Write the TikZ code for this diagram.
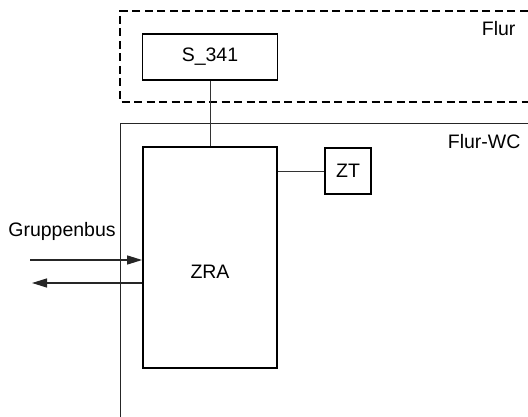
\documentclass[tikz,border=0pt]{standalone}
\usepackage{fontspec}
\setmainfont{Liberation Sans}
\usetikzlibrary{arrows.meta}

\begin{document}
\begin{tikzpicture}[x=1pt,y=-1pt,
  every node/.style={font=\fontsize{19.5}{22}\selectfont},
  box/.style={draw,line width=1.8pt,inner sep=0pt},
  area/.style={line width=1pt,black!85},
  conn/.style={line width=0.9pt,black!80},
  bus/.style={line width=1.3pt,black!85,-{Triangle[length=15pt,width=9pt]}}]
  \useasboundingbox (0,0) rectangle (528,417);
  \clip (0,0) rectangle (528,417);
  % rooms
  \draw[line width=1.7pt,dash pattern=on 8pt off 4.5pt] (540,11) -- (120,11) -- (120,102) -- (540,102);
  \draw[area] (540,124) -- (120,124) -- (120,430);
  \node[anchor=east] at (519,29) (flur) {Flur};
  \node[anchor=east] at (524,142) (flurwc) {Flur-WC};
  % devices
  \node[box,minimum width=135pt,minimum height=46pt] at (210,57) (s341) {S\_341};
  \node[box,minimum width=134pt,minimum height=221pt] at (210,257.5) (zra) {};
  \node at (210,272) (zralbl) {ZRA};
  \node[box,minimum width=46pt,minimum height=46pt] at (348,171) (zt) {ZT};
  \draw[conn] (s341) -- (zra);
  \draw[conn] (zra.east |- zt) -- (zt);
  % bus
  \node at (62,231) (bus) {Gruppenbus};
  \coordinate (busin) at (30,260);
  \coordinate (busout) at (32,283);
  \draw[bus] (busin) -- (zra.west |- busin);
  \draw[bus] (zra.west |- busout) -- (busout);
\end{tikzpicture}
\end{document}
